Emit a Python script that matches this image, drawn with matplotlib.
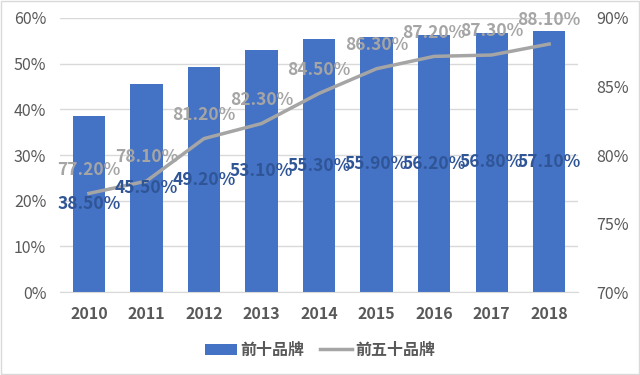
import matplotlib
matplotlib.use("Agg")
from matplotlib import pyplot as plt
from matplotlib.ticker import FuncFormatter
from matplotlib.patches import Rectangle
from matplotlib.lines import Line2D
from matplotlib.patches import Patch

plt.rcParams["font.family"] = ["Noto Sans CJK SC", "DejaVu Sans"]

years = ["2010", "2011", "2012", "2013", "2014", "2015", "2016", "2017", "2018"]
top10 = [38.5, 45.5, 49.2, 53.1, 55.3, 55.9, 56.2, 56.8, 57.1]
top50 = [77.2, 78.1, 81.2, 82.3, 84.5, 86.3, 87.2, 87.3, 88.1]

BAR_COLOR = "#4472C4"
LINE_COLOR = "#A5A5A5"
TICK_COLOR = "#595959"

fig = plt.figure(figsize=(6.4, 3.75), dpi=100, facecolor="white")
ax = fig.add_axes([0.094, 0.221, 0.809, 0.731])
ax2 = ax.twinx()

x = range(len(years))
ax.bar(x, top10, width=0.56, color=BAR_COLOR, zorder=2)
ax.set_ylim(0, 60)
ax.set_yticks(range(0, 61, 10))
ax.yaxis.set_major_formatter(FuncFormatter(lambda v, _: f"{v:.0f}%"))
ax.set_xlim(-0.5, len(years) - 0.5)
ax.set_xticks(list(x))
ax.set_xticklabels(years, fontsize=11.5, fontweight="bold", color=TICK_COLOR)
ax.grid(axis="y", color="#D9D9D9", lw=1, zorder=0)
ax.set_axisbelow(True)
for s in ["top", "left", "right"]:
    ax.spines[s].set_visible(False)
ax.spines["bottom"].set_color("#D9D9D9")
ax.tick_params(axis="x", length=0, pad=10)
ax.tick_params(axis="y", length=0, pad=10, labelsize=11.5, labelcolor=TICK_COLOR)

ax2.plot(list(x), top50, color=LINE_COLOR, lw=2.5, zorder=3)
ax2.set_ylim(70, 90)
ax2.set_yticks(range(70, 91, 5))
ax2.yaxis.set_major_formatter(FuncFormatter(lambda v, _: f"{v:.0f}%"))
ax2.tick_params(axis="y", length=0, pad=13, labelsize=11.5, labelcolor=TICK_COLOR)
for s in ["top", "left", "right", "bottom"]:
    ax2.spines[s].set_visible(False)

# bar labels sit on top of the line, so draw them on ax2 in ax coordinates
for xi, v in zip(x, top10):
    ax2.text(xi, v / 2, f"{v:.2f}%", transform=ax.transData, ha="center",
             va="center", fontsize=12.5, fontweight="bold", color="#2F5597", zorder=5)
for xi, v in zip(x, top50):
    ax2.annotate(f"{v:.2f}%", (xi, v), xytext=(0, 17), textcoords="offset points",
                 ha="center", va="center", fontsize=12.5, fontweight="bold",
                 color=LINE_COLOR, zorder=5)

handles = [Patch(facecolor=BAR_COLOR, label="前十品牌"),
           Line2D([], [], color=LINE_COLOR, lw=2.5, label="前五十品牌")]
leg = fig.legend(handles=handles, loc="center", bbox_to_anchor=(0.5, 0.067), ncol=2,
                 frameon=False, handlelength=2.0, handletextpad=0.2,
                 columnspacing=1.0, prop={"weight": "bold", "size": 11.5})
for t in leg.get_texts():
    t.set_color(TICK_COLOR)

fig.patches.append(Rectangle((0.002, 0.003), 0.996, 0.994, transform=fig.transFigure,
                             fill=False, edgecolor="#D9D9D9", lw=1))

fig.savefig("out.png", dpi=100)
